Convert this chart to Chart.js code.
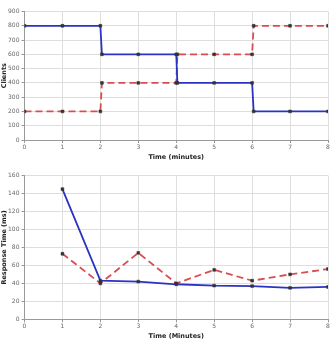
<!DOCTYPE html>
<html><head><meta charset="utf-8">
<script src="https://cdn.jsdelivr.net/npm/chart.js@4/dist/chart.umd.min.js"></script>
<style>
html,body{margin:0;padding:0;background:#fff;}
canvas{position:absolute;left:0;}
#c1{top:0;}
#c2{top:170px;}
</style></head>
<body>
<canvas id="c1" width="333" height="170"></canvas>
<canvas id="c2" width="333" height="179"></canvas>
<script>
// Top chart: clients over time
const clientsBlueX = [0, 1, 2, 2.04, 3, 4, 4.03, 5, 6, 6.04, 7, 8];
const clientsBlueY = [800, 800, 800, 600, 600, 600, 400, 400, 400, 200, 200, 200];
const clientsRedX  = [0, 1, 2, 2.04, 3, 4, 4.03, 5, 6, 6.04, 7, 8];
const clientsRedY  = [200, 200, 200, 400, 400, 400, 600, 600, 600, 800, 800, 800];
// Bottom chart: response time
const respX     = [1, 2, 3, 4, 5, 6, 7, 8];
const respBlue  = [145, 43, 42, 39, 37.5, 37, 35, 36];
const respRed   = [73, 40, 74, 40, 55, 43, 50, 56];
const clientTicks = [0, 100, 200, 300, 400, 500, 600, 700, 800, 900];
const respTicks   = [0, 20, 40, 60, 80, 100, 120, 140, 160];

const zip = (xs, ys) => xs.map((x, i) => ({x: x, y: ys[i]}));

const FONT = "'DejaVu Sans', Verdana, sans-serif";
const BLUE = '#2a33c4';
const RED = '#d94c52';

function ds(data, color, dashed) {
  return {
    data: data,
    borderColor: color,
    borderWidth: 1.8,
    borderDash: dashed ? [7, 4] : [],
    pointStyle: 'rect',
    pointRadius: 2,
    pointBackgroundColor: '#333',
    pointBorderColor: '#333',
    pointBorderWidth: 0.5,
    tension: 0,
    fill: false
  };
}

function makeOpts(yMax, yStep, yTitle, xTitle, padTop, padBottom) {
  return {
    responsive: false,
    animation: false,
    events: [],
    layout: {padding: {top: padTop, right: 5, left: 0, bottom: padBottom}},
    plugins: {legend: {display: false}, tooltip: {enabled: false}},
    scales: {
      x: {
        type: 'linear', min: 0, max: 8,
        ticks: {stepSize: 1, color: '#666', font: {family: FONT, size: 6}, padding: 1, maxRotation: 0},
        grid: {color: '#dedede', tickColor: '#999', tickLength: 3, drawTicks: true},
        border: {color: '#999', width: 1},
        title: {display: true, text: xTitle, color: '#222', font: {family: FONT, size: 6.5, weight: 'bold'}, padding: {top: 1, bottom: 0}},
        afterFit: s => { s.height = 21; }
      },
      y: {
        min: 0, max: yMax,
        ticks: {stepSize: yStep, color: '#666', font: {family: FONT, size: 6}, padding: 2},
        grid: {color: '#dedede', tickColor: '#999', tickLength: 3},
        border: {color: '#999', width: 1},
        title: {display: true, text: yTitle, color: '#222', font: {family: FONT, size: 6.5, weight: 'bold'}, padding: {top: 0, bottom: 0}},
        afterFit: s => { s.width = 24.5; }
      }
    }
  };
}

new Chart(document.getElementById('c1'), {
  type: 'line',
  data: {datasets: [
    ds(zip(clientsBlueX, clientsBlueY), BLUE, false),
    ds(zip(clientsRedX, clientsRedY), RED, true)
  ]},
  options: makeOpts(clientTicks[clientTicks.length - 1], clientTicks[1] - clientTicks[0], 'Clients', 'Time (minutes)', 11.5, 9)
});

new Chart(document.getElementById('c2'), {
  type: 'line',
  data: {datasets: [
    ds(zip(respX, respBlue), BLUE, false),
    ds(zip(respX, respRed), RED, true)
  ]},
  options: makeOpts(respTicks[respTicks.length - 1], respTicks[1] - respTicks[0], 'Response Time (ms)', 'Time (Minutes)', 5.3, 8.7)
});
</script>
</body></html>
